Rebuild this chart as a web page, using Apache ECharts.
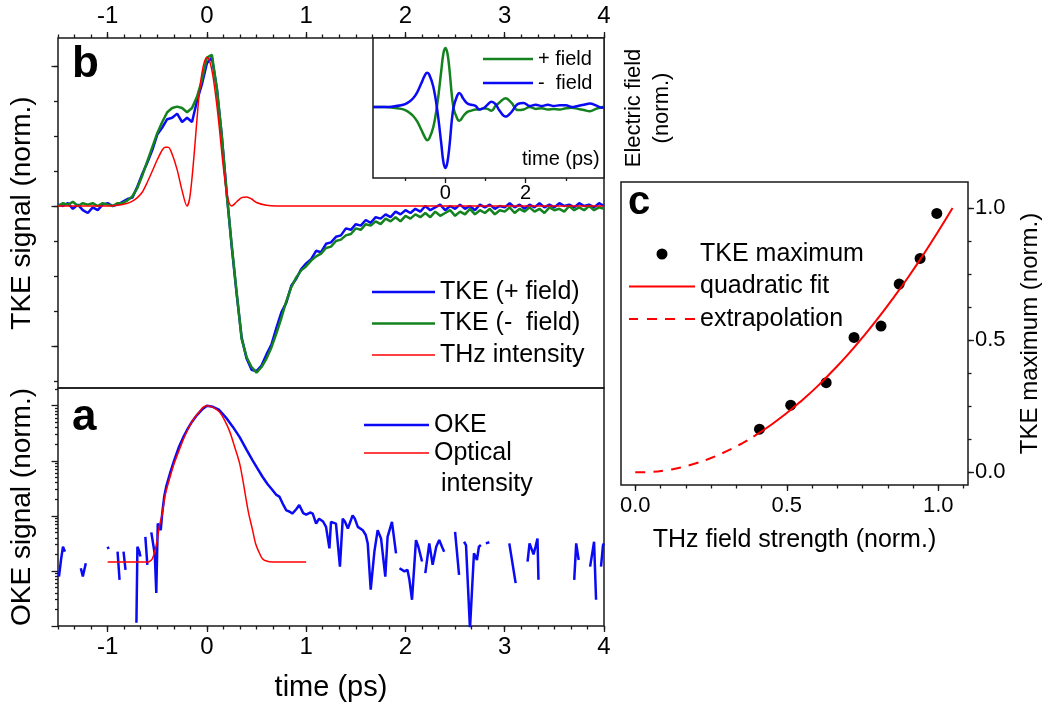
<!DOCTYPE html>
<html>
<head>
<meta charset="UTF-8">
<title>TKE / OKE transients</title>
<style>
  html, body { margin: 0; padding: 0; background: #fff; }
  #main { width: 1043px; height: 709px; }
</style>
</head>
<body>
<div id="main"></div>
<script src="https://cdn.jsdelivr.net/npm/echarts@6.0.0/dist/echarts.min.js"></script>
<script>
// ---------- data ----------

// panel b: TKE signal, both field polarities (0.05 ps steps)
var tkeTime = [
  -1.5, -1.45, -1.4, -1.35, -1.3, -1.25, -1.2, -1.15, -1.1, -1.05,
  -1, -0.95, -0.9, -0.85, -0.8, -0.75, -0.7, -0.65, -0.6, -0.55,
  -0.5, -0.45, -0.4, -0.35, -0.3, -0.25, -0.2, -0.15, -0.1, -0.05,
  0, 0.05, 0.1, 0.15, 0.2, 0.25, 0.3, 0.35, 0.4, 0.45,
  0.5, 0.55, 0.6, 0.65, 0.7, 0.75, 0.8, 0.85, 0.9, 0.95,
  1, 1.05, 1.1, 1.15, 1.2, 1.25, 1.3, 1.35, 1.4, 1.45,
  1.5, 1.55, 1.6, 1.65, 1.7, 1.75, 1.8, 1.85, 1.9, 1.95,
  2, 2.05, 2.1, 2.15, 2.2, 2.25, 2.3, 2.35, 2.4, 2.45,
  2.5, 2.55, 2.6, 2.65, 2.7, 2.75, 2.8, 2.85, 2.9, 2.95,
  3, 3.05, 3.1, 3.15, 3.2, 3.25, 3.3, 3.35, 3.4, 3.45,
  3.5, 3.55, 3.6, 3.65, 3.7, 3.75, 3.8, 3.85, 3.9, 3.95,
  4
];
var tkePlus = [
  0.01, 0.00, 0.02, -0.02, 0.01, -0.03, -0.05, -0.01, -0.03, 0.01,
  0.02, 0.00, 0.01, 0.03, 0.05, 0.06, 0.14, 0.23, 0.31, 0.40,
  0.51, 0.56, 0.62, 0.63, 0.66, 0.60, 0.63, 0.60, 0.75, 0.87,
  1.02, 1.06, 0.84, 0.50, 0.09, -0.29, -0.63, -0.94, -1.09, -1.17,
  -1.18, -1.14, -1.06, -0.99, -0.87, -0.76, -0.69, -0.57, -0.52, -0.45,
  -0.41, -0.38, -0.32, -0.33, -0.27, -0.26, -0.22, -0.21, -0.16, -0.17,
  -0.13, -0.14, -0.10, -0.12, -0.08, -0.09, -0.06, -0.08, -0.04, -0.06,
  -0.03, -0.05, -0.02, -0.04, 0.00, -0.03, -0.01, 0.01, -0.03, 0.00,
  -0.02, 0.01, -0.02, 0.00, -0.03, 0.01, -0.01, 0.01, -0.02, 0.00,
  -0.01, 0.02, -0.01, 0.01, -0.02, 0.01, -0.01, 0.02, -0.01, 0.01,
  -0.01, 0.02, 0.00, 0.01, -0.01, 0.02, 0.00, 0.01, -0.01, 0.02,
  0.00
];
var tkeMinus = [
  0.00, 0.02, 0.01, 0.03, 0.00, 0.02, 0.01, 0.02, 0.00, 0.02,
  0.01, 0.00, 0.02, 0.02, 0.04, 0.07, 0.13, 0.22, 0.32, 0.42,
  0.52, 0.60, 0.67, 0.70, 0.71, 0.70, 0.67, 0.70, 0.78, 0.90,
  1.06, 1.08, 0.84, 0.50, 0.08, -0.28, -0.62, -0.95, -1.08, -1.15,
  -1.19, -1.15, -1.09, -1.01, -0.91, -0.80, -0.68, -0.58, -0.51, -0.46,
  -0.43, -0.39, -0.36, -0.34, -0.30, -0.29, -0.25, -0.24, -0.21, -0.20,
  -0.16, -0.17, -0.13, -0.14, -0.11, -0.13, -0.09, -0.11, -0.08, -0.11,
  -0.07, -0.09, -0.06, -0.08, -0.05, -0.08, -0.04, -0.07, -0.05, -0.03,
  -0.07, -0.04, -0.06, -0.02, -0.06, -0.03, -0.05, -0.02, -0.06, -0.03,
  -0.04, -0.01, -0.05, -0.02, -0.04, -0.01, -0.04, -0.02, -0.05, -0.01,
  -0.03, -0.02, -0.04, 0.00, -0.03, -0.01, -0.03, 0.00, -0.03, -0.01,
  -0.02
];
var thzTime = [-1.5, -1.0, -0.9, -0.8, -0.75, -0.7, -0.65, -0.6, -0.55, -0.5, -0.45, -0.42, -0.39, -0.35, -0.3,
  -0.25, -0.2, -0.175, -0.15, -0.125, -0.1, -0.075, -0.05, -0.025, 0, 0.025, 0.05, 0.075, 0.1, 0.125,
  0.15, 0.175, 0.2, 0.225, 0.25, 0.3, 0.35, 0.4, 0.45, 0.5, 0.6, 0.7, 1.0, 2.0, 3.0, 4.0];
var thzInt = [0, 0, 0.005, 0.02, 0.035, 0.06, 0.10, 0.17, 0.25, 0.33, 0.40, 0.42, 0.42, 0.37, 0.26,
  0.11, 0.0, 0.05, 0.20, 0.40, 0.62, 0.82, 0.95, 1.03, 1.06, 1.04, 0.97, 0.86, 0.72, 0.56,
  0.38, 0.22, 0.09, 0.02, 0.0, 0.03, 0.06, 0.065, 0.05, 0.025, 0.005, 0, 0, 0, 0, 0];

// inset: THz electric field
var fieldTime = [-1.8, -1.5, -1.3, -1.1, -1.0, -0.9, -0.8, -0.7, -0.6, -0.5, -0.45, -0.4, -0.3, -0.2, -0.1,
  -0.05, 0, 0.05, 0.1, 0.2, 0.3, 0.35, 0.45, 0.55, 0.65, 0.75, 0.85, 0.95, 1.05, 1.15,
  1.25, 1.35, 1.5, 1.65, 1.8, 1.95, 2.1, 2.25, 2.4, 2.55, 2.7, 2.85, 3.0, 3.15, 3.3,
  3.45, 3.6, 3.75, 3.9, 3.95];
var fieldPlus = [0, 0, -0.01, -0.03, -0.05, -0.09, -0.15, -0.24, -0.38, -0.52, -0.56, -0.53, -0.34, 0.05, 0.62,
  0.90, 1.0, 0.92, 0.66, 0.0, -0.20, -0.23, -0.15, -0.08, -0.06, -0.04, -0.04, -0.02, -0.03, -0.06,
  0.02, 0.08, 0.15, 0.07, -0.05, -0.04, 0.0, -0.03, -0.02, -0.04, -0.03, -0.04, -0.02, -0.01, -0.03,
  -0.05, -0.07, -0.03, 0.0, 0.01];
var fieldMinus = [0, 0, 0.01, 0.03, 0.05, 0.09, 0.15, 0.25, 0.40, 0.55, 0.58, 0.55, 0.35, -0.05, -0.62,
  -0.92, -1.03, -0.94, -0.68, -0.02, 0.20, 0.24, 0.14, 0.06, 0.04, 0.02, -0.04, -0.02, 0.04, 0.09,
  0.05, -0.06, -0.16, -0.08, 0.05, 0.07, 0.02, 0.04, 0.02, 0.04, 0.02, 0.03, 0.03, 0.0, 0.02,
  0.04, 0.06, 0.03, -0.01, 0.0];

// panel a: OKE signal on a log scale (null = gap, signal <= 0 there)
var okeTime = [
  -1.49, -1.47, -1.45, -1.43, -1.35,
  -1.27, -1.25, -1.22, -1.1,
  -1.0, -0.99, -0.95,
  -0.90, -0.88, -0.86,
  -0.84, -0.82, -0.76,
  -0.71, -0.70, -0.68, -0.67, -0.645,
  -0.62, -0.60, -0.58,
  -0.56, -0.545, -0.525, -0.51, -0.495, -0.48, -0.465, -0.45, -0.43, -0.41,
  -0.37, -0.33, -0.28, -0.24, -0.20, -0.15, -0.10, -0.05, 0, 0.06,
  0.12, 0.19, 0.26, 0.33, 0.40, 0.46, 0.51, 0.56, 0.61, 0.66,
  0.70, 0.73, 0.77, 0.80, 0.83, 0.86, 0.90, 0.93, 0.97, 1.00,
  1.04, 1.066, 1.10, 1.13, 1.17, 1.20, 1.234, 1.25, 1.30, 1.34,
  1.368, 1.39, 1.42, 1.468, 1.49, 1.52, 1.57, 1.60, 1.62, 1.65,
  1.687, 1.72, 1.754, 1.797, 1.82, 1.864, 1.905, 1.92,
  1.94, 1.99, 2.02, 2.04, 2.066, 2.106, 2.13, 2.167, 2.18,
  2.20, 2.24, 2.274, 2.31, 2.34, 2.368, 2.39, 2.45,
  2.50, 2.54, 2.565,
  2.59, 2.61, 2.65, 2.69, 2.72, 2.74, 2.76, 2.785,
  2.81, 2.845, 2.95,
  3.046, 3.11, 3.17,
  3.23, 3.25, 3.29, 3.31, 3.33, 3.34, 3.5,
  3.70, 3.72, 3.745, 3.8,
  3.86, 3.90, 3.92, 3.945,
  3.97, 3.99, 4.0
];
var okeSig = [
  0.00079, 0.00158, 0.00275, 0.00224, null,
  0.00112, 0.00079, 0.00138, null,
  0.00275, 0.00251, null,
  0.00224, 0.00069, null,
  0.00224, 0.00105, null,
  0.000115, 0.00275, 0.00224, 0.00182, null,
  0.00417, 0.00129, null,
  0.00501, 0.00479, 0.002, 0.000398, 0.00724, 0.00631, 0.0055, 0.0112, 0.0224, 0.0339,
  0.0603, 0.102, 0.182, 0.263, 0.363, 0.513, 0.676, 0.851, 1, 0.955,
  0.851, 0.617, 0.417, 0.269, 0.158, 0.102, 0.0724, 0.0513, 0.038, 0.0295,
  0.024, 0.0224, 0.0158, 0.0126, 0.012, 0.011, 0.0132, 0.0158, 0.0112, 0.0105,
  0.0115, 0.011, 0.00724, 0.0089, 0.0079, 0.00631, 0.00257, 0.0078, 0.00724, 0.0012,
  0.0089, 0.0079, 0.0059, 0.0102, 0.0089, 0.00631, 0.0055, 0.0045, 0.00316, 0.000457,
  0.00224, 0.0055, 0.00389, 0.00079, 0.00417, 0.0078, 0.00209, null,
  0.00112, 0.00098, 0.00105, 0.00069, 0.0003, 0.00363, 0.00275, 0.00148, null,
  0.00091, 0.00316, 0.00129, 0.00275, 0.00363, 0.00275, 0.00224, null,
  0.00513, 0.00085, null,
  0.00339, 0.00295, 0.000089, 0.00209, 0.00158, 0.00275, 0.00295, null,
  0.00316, 0.00331, null,
  0.00316, 0.0006, null,
  0.00148, 0.00316, 0.002, 0.00275, 0.00389, 0.00069, null,
  0.00069, 0.00316, 0.00158, null,
  0.0012, 0.00339, 0.0003, null,
  0.0012, 0.00295, 0.00316
];
var optTime = [-1.0, -0.6, -0.58, -0.55, -0.53, -0.50, -0.48, -0.45, -0.42, -0.38, -0.33, -0.28,
  -0.23, -0.18, -0.13, -0.08, -0.04, 0, 0.05, 0.09, 0.13, 0.18, 0.23, 0.28,
  0.33, 0.36, 0.39, 0.42, 0.46, 0.49, 0.53, 0.56, 0.60, 0.66, 1.0];
var optInt = [0.00145, 0.00145, 0.00148, 0.00166, 0.00209, 0.00363, 0.00631, 0.011, 0.024, 0.0447, 0.0891, 0.155,
  0.263, 0.407, 0.589, 0.759, 0.933, 1, 0.955, 0.871, 0.759, 0.537, 0.339, 0.178,
  0.0891, 0.0468, 0.0224, 0.0112, 0.0055, 0.00316, 0.00209, 0.00166, 0.00151, 0.00145, 0.00145];

// panel c: TKE maximum vs THz field strength
var fieldStrength = [0.41, 0.513, 0.63, 0.722, 0.811, 0.871, 0.94, 0.995];
var tkeMax = [0.163, 0.254, 0.339, 0.51, 0.553, 0.712, 0.809, 0.979];
var fitX = [0.39, 0.45, 0.5, 0.55, 0.6, 0.65, 0.7, 0.75, 0.8, 0.85, 0.9, 0.95, 1.0, 1.047];
var fitY = [0.135, 0.181, 0.224, 0.272, 0.324, 0.382, 0.443, 0.510, 0.581, 0.657, 0.737, 0.822, 0.912, 1.0];
var extraX = [0, 0.05, 0.1, 0.15, 0.2, 0.25, 0.3, 0.35, 0.39];
var extraY = [0, 0.0015, 0.0077, 0.0185, 0.034, 0.054, 0.079, 0.108, 0.135];

// tick positions
var timeLabels = [-1, 0, 1, 2, 3, 4];
var fieldLabels = [0, 0.5, 1];

// ---------- drawing ----------
var fam = 'Liberation Sans, Arial, Helvetica, sans-serif';
var ink = '#1a1a1a';
var blue = '#0a0af5';
var green = '#14821e';
var red = '#ff0000';

function pairs(xs, ys) {
  return xs.map(function (x, i) { return [x, ys[i]]; });
}

// evenly spaced tick positions (only used for minor ticks)
function steps(from, to, step) {
  var out = [];
  for (var v = from; v <= to + 1e-9; v += step) out.push(+v.toFixed(5));
  return out;
}

// one axis: o.ticks / o.labels are custom positions, o.len the tick length
function axis(o) {
  var a = {
    type: o.type || 'value',
    gridIndex: o.grid,
    position: o.pos,
    min: o.min,
    max: o.max,
    silent: true,
    axisLine: { show: false, onZero: false },
    splitLine: { show: false },
    axisTick: {
      show: !!o.ticks, inside: false, length: o.len || 6,
      customValues: o.ticks,
      lineStyle: { color: ink, width: 1.3 }
    },
    axisLabel: {
      show: !!o.labels, customValues: o.labels,
      margin: o.margin || 8, color: '#000',
      fontSize: o.size || 24, fontFamily: fam,
      formatter: o.fmt
    }
  };
  if (o.name) {
    a.name = o.name;
    a.nameLocation = 'middle';
    a.nameGap = o.nameGap;
    a.nameMoveOverlap = false;
    a.nameTextStyle = { fontSize: o.nameSize, fontFamily: fam, color: '#000', lineHeight: o.nameLine };
  }
  return a;
}

function oneDecimal(v) { return (+v).toFixed(1); }

var logMax = 2.1;
var logMinor = [];
for (var d = -4; d <= 0; d++) {
  for (var k = 2; k <= 9; k++) {
    var lv = d + Math.log10(k);
    if (lv <= Math.log10(logMax)) logMinor.push(+lv.toFixed(5));
  }
}

var xAxes = [
  // b: top time axis
  axis({ grid: 0, pos: 'top', min: -1.5, max: 4, ticks: timeLabels, len: 6, labels: timeLabels, margin: 10 }),
  axis({ grid: 0, pos: 'top', min: -1.5, max: 4, ticks: steps(-1.5, 4, 1 / 6), len: 3.5 }),
  // a: bottom time axis
  axis({ grid: 1, pos: 'bottom', min: -1.5, max: 4, ticks: timeLabels, len: 6, labels: timeLabels, margin: 9,
         name: 'time (ps)', nameGap: 47, nameSize: 29 }),
  axis({ grid: 1, pos: 'bottom', min: -1.5, max: 4, ticks: steps(-1.5, 4, 1 / 6), len: 3.5 }),
  // inset
  axis({ grid: 2, pos: 'bottom', min: -1.8, max: 3.95, ticks: [0, 2], len: 5, labels: [0, 2], size: 20, margin: 5 }),
  axis({ grid: 2, pos: 'bottom', min: -1.8, max: 3.95, ticks: [-1, 1, 3], len: 3 }),
  // c
  axis({ grid: 3, pos: 'bottom', min: -0.047, max: 1.098, ticks: fieldLabels, len: 6, labels: fieldLabels, size: 22,
         margin: 10, fmt: oneDecimal, name: 'THz field strength (norm.)', nameGap: 43, nameSize: 25 }),
  axis({ grid: 3, pos: 'bottom', min: -0.047, max: 1.098, ticks: steps(0, 1.09, 1 / 12), len: 3.5 })
];

var yAxes = [
  // b
  axis({ grid: 0, pos: 'left', min: -1.3, max: 1.2, ticks: [-1, 0, 1], len: 6.5,
         name: 'TKE signal (norm.)', nameGap: 22, nameSize: 28 }),
  axis({ grid: 0, pos: 'left', min: -1.3, max: 1.2, ticks: steps(-1.25, 1.2, 0.25), len: 4 }),
  // a: log data axis, ticks drawn by the overlay axes below
  axis({ grid: 1, pos: 'left', type: 'log', min: 1e-4, max: logMax }),
  axis({ grid: 1, pos: 'left', min: -4, max: Math.log10(logMax), ticks: [-4, -3, -2, -1, 0], len: 6.5,
         name: 'OKE signal (norm.)', nameGap: 22, nameSize: 28 }),
  axis({ grid: 1, pos: 'left', min: -4, max: Math.log10(logMax), ticks: logMinor, len: 3 }),
  // inset
  axis({ grid: 2, pos: 'right', min: -1.2, max: 1.17,
         name: 'Electric field\n(norm.)', nameGap: 16, nameSize: 22, nameLine: 28 }),
  // c
  axis({ grid: 3, pos: 'right', min: -0.048, max: 1.098, ticks: fieldLabels, len: 6, labels: fieldLabels, size: 22,
         margin: 7, fmt: oneDecimal, name: 'TKE maximum (norm.)', nameGap: 50, nameSize: 24 }),
  axis({ grid: 3, pos: 'right', min: -0.048, max: 1.098, ticks: steps(0, 1, 0.125), len: 3.5 })
];

function line(name, xi, yi, data, color, width, extra) {
  var s = {
    name: name, type: 'line', xAxisIndex: xi, yAxisIndex: yi,
    data: data, symbol: 'none', silent: true, connectNulls: false,
    lineStyle: { color: color, width: width },
    itemStyle: { color: color }
  };
  for (var key in (extra || {})) s[key] = extra[key];
  return s;
}

// legend icons: plain bars (scaled to the item width), dashed bar for extrapolation
var barThick = 'path://M0,0H126V5H0Z';
var barThin = 'path://M0,0H126V3H0Z';
var barInset = 'path://M0,0H100V5H0Z';
var barOke = 'path://M0,0H130V5H0Z';
var barOpt = 'path://M0,0H130V3H0Z';
var barFit = 'path://M0,0H132V4H0Z';
var barDash = 'path://M0,0H9V2H0Z M18,0H28V2H18Z M36,0H46V2H36Z M56,0H66V2H56Z';

var legendBase = {
  orient: 'vertical', padding: 0, selectedMode: false,
  textStyle: { fontFamily: fam, fontSize: 25, color: '#000', lineHeight: 26 }
};
function legend(o) {
  var l = JSON.parse(JSON.stringify(legendBase));
  for (var key in o) l[key] = o[key];
  return l;
}

var grids = [
  { left: 58, top: 38, width: 546, height: 350 },    // b
  { left: 58, top: 388, width: 546, height: 238 },   // a
  { left: 373, top: 38, width: 231, height: 140 },   // inset
  { left: 621, top: 182, width: 347, height: 303 }   // c
].map(function (g, i) {
  g.show = true;
  g.borderColor = ink;
  g.borderWidth = 1.5;
  g.backgroundColor = i === 2 ? '#fff' : 'transparent';
  g.containLabel = false;
  g.outerBoundsMode = 'none';
  return g;
});

var option = {
  animation: false,
  backgroundColor: '#fff',
  textStyle: { fontFamily: fam, color: '#000' },
  grid: grids,
  xAxis: xAxes,
  yAxis: yAxes,
  legend: [
    legend({ data: [
               { name: 'TKE (+ field)', icon: barThick },
               { name: 'TKE (-  field)', icon: barThick },
               { name: 'THz intensity', icon: barThin }],
             left: 372, top: 279, itemWidth: 63, itemHeight: 14, itemGap: 5.5 }),
    legend({ data: [
               { name: 'OKE', icon: barOke },
               { name: 'Optical intensity', icon: barOpt }],
             left: 364, top: 412, itemWidth: 65, itemHeight: 14, itemGap: 2,
             formatter: function (n) { return n === 'Optical intensity' ? 'Optical' : n; } }),
    legend({ data: [
               { name: '+ field', icon: barInset },
               { name: '-  field', icon: barInset }],
             left: 483, top: 49, itemWidth: 50, itemHeight: 10, itemGap: 4,
             textStyle: { fontFamily: fam, fontSize: 20, color: '#000', lineHeight: 20 } }),
    legend({ data: [
               { name: 'TKE maximum', icon: 'circle' },
               { name: 'quadratic fit', icon: barFit },
               { name: 'extrapolation', icon: barDash }],
             left: 629, top: 241, itemWidth: 66, itemHeight: 11, itemGap: 6.5 })
  ],
  graphic: [
    { type: 'text', silent: true, style: { x: 72, y: 65, text: 'b', font: 'bold 44px ' + fam, fill: '#000', verticalAlign: 'middle' } },
    { type: 'text', silent: true, style: { x: 72, y: 418, text: 'a', font: 'bold 44px ' + fam, fill: '#000', verticalAlign: 'middle' } },
    { type: 'text', silent: true, style: { x: 628, y: 203, text: 'c', font: 'bold 40px ' + fam, fill: '#000', verticalAlign: 'middle' } },
    { type: 'text', silent: true, style: { x: 441, y: 484, text: 'intensity', font: '25px ' + fam, fill: '#000', verticalAlign: 'middle' } },
    { type: 'text', silent: true, style: { x: 522, y: 159, text: 'time (ps)', font: '20px ' + fam, fill: '#000', verticalAlign: 'middle' } }
  ],
  series: [
    // b
    line('TKE (+ field)', 0, 0, pairs(tkeTime, tkePlus), blue, 2.5),
    line('TKE (-  field)', 0, 0, pairs(tkeTime, tkeMinus), green, 2.5),
    line('THz intensity', 0, 0, pairs(thzTime, thzInt), red, 1.5, { smooth: 0.3 }),
    // inset
    line('+ field', 4, 5, pairs(fieldTime, fieldPlus), green, 2.5, { smooth: 0.4 }),
    line('-  field', 4, 5, pairs(fieldTime, fieldMinus), blue, 2.5, { smooth: 0.4 }),
    // a
    line('OKE', 2, 2, pairs(okeTime, okeSig), blue, 2.5),
    line('Optical intensity', 2, 2, pairs(optTime, optInt), red, 1.5, { smooth: 0.3 }),
    // c
    {
      name: 'TKE maximum', type: 'scatter', xAxisIndex: 6, yAxisIndex: 6, silent: true,
      data: pairs(fieldStrength, tkeMax), symbol: 'circle', symbolSize: 11,
      itemStyle: { color: '#000', opacity: 1 }
    },
    line('quadratic fit', 6, 6, pairs(fitX, fitY), red, 2, { smooth: true }),
    line('extrapolation', 6, 6, pairs(extraX, extraY), red, 2, { smooth: true })
  ]
};
option.series[9].lineStyle.type = [10, 8];

var chart = echarts.init(document.getElementById('main'), null, { renderer: 'canvas', width: 1043, height: 709 });
chart.setOption(option);
</script>
</body>
</html>
